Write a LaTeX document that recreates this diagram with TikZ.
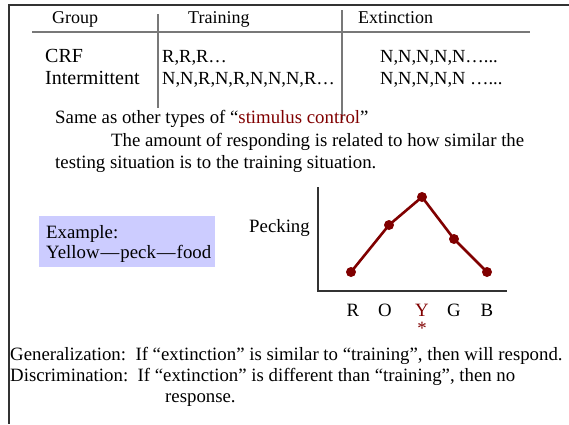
\documentclass[tikz,border=0pt]{standalone}
\usepackage{fontspec}
\setmainfont{Liberation Serif}
\definecolor{darkred}{RGB}{128,0,0}
\definecolor{boxblue}{RGB}{204,204,255}
\definecolor{rulegray}{RGB}{120,120,120}
\definecolor{framegray}{RGB}{50,50,50}
\tikzset{
  txt/.style={anchor=base west,inner sep=0pt,font=\fontsize{18.8}{22}\selectfont},
  hdr/.style={txt,font=\fontsize{18}{21}\selectfont},
  big/.style={txt,font=\fontsize{20}{24}\selectfont},
  cell/.style={txt,font=\fontsize{18.5}{22}\selectfont},
  rule/.style={rulegray,line width=1.2pt},
  pt/.style={circle,fill=darkred,inner sep=0pt,minimum size=10pt},
  curve/.style={darkred,line width=2.6pt},
}
\begin{document}
\begin{tikzpicture}[x=1pt,y=-1pt]
\useasboundingbox (0,0) rectangle (569,424);
% frame
\draw[framegray,line width=1.2pt] (569,5) -- (9,5) -- (9,424);
% table
\node[hdr] (hGroup) at (52,23) {Group};
\node[hdr] (hTrain) at (188,23) {Training};
\node[hdr] (hExt) at (358,23) {Extinction};
\draw[rule] (32,32) -- (530,32);
\draw[rule] (158,14) -- (158,108);
\draw[rule] (342,10) -- (342,120);
\node[big] (crf) at (45,62) {CRF};
\node[big] (inter) at (45,84) {Intermittent};
\node[cell] (crfT) at (162,62) {R,R,R…};
\node[cell] (intT) at (162,84) {N,N,R,N,R,N,N,N,R…};
\node[cell] (crfE) at (380,62) {N,N,N,N,N…...};
\node[cell] (intE) at (380,84) {N,N,N,N,N …...};
% text
\node[txt] (same) at (55,123) {Same as other types of “\textcolor{darkred}{stimulus control}”};
\node[txt] (amount) at (111,146) {The amount of responding is related to how similar the};
\node[txt] (testing) at (55,168) {testing situation is to the training situation.};
% example box
\fill[boxblue] (39,216) rectangle (215,267);
\node[txt] (ex1) at (46,238) {Example:};
\node[txt] (ex2) at (46,258) {Yellow\kern1pt—\kern1pt peck\kern1pt—\kern1pt food};
% chart
\node[txt] (peck) at (249,232) {Pecking};
\coordinate (ytop) at (318,187);
\coordinate (orig) at (318,291);
\coordinate (xend) at (507,291);
\draw[line width=1.2pt,framegray] (ytop) -- (orig) -- (xend);
\node[pt] (pR) at (351,272) {};
\node[pt] (pO) at (389,225) {};
\node[pt] (pY) at (422,197) {};
\node[pt] (pG) at (454,239) {};
\node[pt] (pB) at (487,272) {};
\draw[curve] (pR.center) -- (pO.center) -- (pY.center) -- (pG.center) -- (pB.center);
\node[txt,anchor=base] (lR) at (353,316) {R};
\node[txt,anchor=base] (lO) at (385,316) {O};
\node[txt,anchor=base,text=darkred] (lY) at (422,316) {Y};
\node[txt,anchor=base] (lG) at (454,316) {G};
\node[txt,anchor=base] (lB) at (487,316) {B};
\node[txt,anchor=center,text=darkred] (star) at (422,328) {*};
% definitions
\node[txt] (gen) at (10,360) {Generalization:\ \ If “extinction” is similar to “training”, then will respond.};
\node[txt] (disc) at (10,381) {Discrimination:\ \ If “extinction” is different than “training”, then no};
\node[txt] (resp) at (165,402) {response.};
\end{tikzpicture}
\end{document}
